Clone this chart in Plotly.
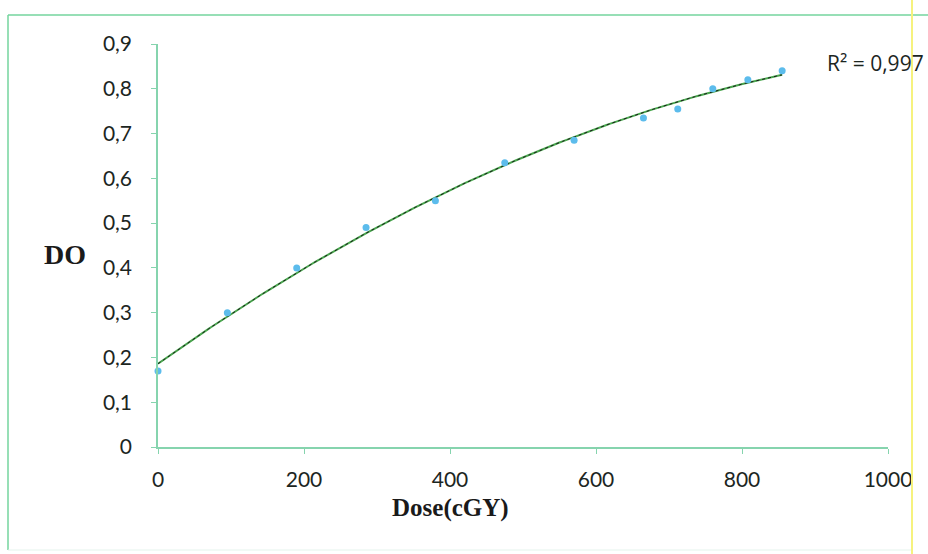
import numpy as np
import plotly.graph_objects as go

# Measured optical density versus dose
dose = [0, 95, 190, 285, 380, 475, 570, 665, 712, 760, 808, 855]
do_values = [0.17, 0.30, 0.40, 0.49, 0.55, 0.635, 0.685, 0.735, 0.755, 0.80, 0.82, 0.84]

y_tick_vals = [0, 0.1, 0.2, 0.3, 0.4, 0.5, 0.6, 0.7, 0.8, 0.9]
y_tick_text = ["0", "0,1", "0,2", "0,3", "0,4", "0,5", "0,6", "0,7", "0,8", "0,9"]
x_tick_vals = [0, 200, 400, 600, 800, 1000]
x_tick_text = ["0", "200", "400", "600", "800", "1000"]

r2_label = "R² = 0,997"

# Second-order polynomial trend line fitted to the measurements
coef = np.polyfit(dose, do_values, 2)
fit_x = np.linspace(min(dose), max(dose), 200)
fit_y = np.polyval(coef, fit_x)

W, H = 928, 554
ML, MR, MT, MB = 158, 40, 44, 107
PW, PH = W - ML - MR, H - MT - MB


def px(xp):
    return (xp - ML) / PW


def py(yp):
    return (H - MB - yp) / PH


axis_green = "#86d4ae"
text_col = "#1c261f"

fig = go.Figure()

fig.add_trace(go.Scatter(
    x=fit_x, y=fit_y, mode="lines",
    line=dict(color="#4aa84f", width=2),
    hoverinfo="skip", showlegend=False,
))
fig.add_trace(go.Scatter(
    x=fit_x, y=fit_y, mode="lines",
    line=dict(color="#1b1b1b", width=1, dash="dot"),
    hoverinfo="skip", showlegend=False,
))
fig.add_trace(go.Scatter(
    x=dose, y=do_values, mode="markers",
    marker=dict(color="#5cbcec", size=7, symbol="circle"),
    cliponaxis=False, showlegend=False,
))

fig.update_layout(
    width=W, height=H,
    margin=dict(l=ML, r=MR, t=MT, b=MB),
    paper_bgcolor="white", plot_bgcolor="white",
    font=dict(family="Lato, Open Sans, sans-serif", color=text_col),
    xaxis=dict(
        range=[0, 1000], tickvals=x_tick_vals, ticktext=x_tick_text,
        showgrid=False, zeroline=False,
        showline=True, linecolor=axis_green, linewidth=1.5,
        ticks="outside", ticklen=5, tickcolor=axis_green, tickwidth=1.2,
        tickfont=dict(size=21, color=text_col),
        ticklabelstandoff=8,
    ),
    yaxis=dict(
        range=[0, 0.9], tickvals=y_tick_vals, ticktext=y_tick_text,
        showgrid=False, zeroline=False,
        showline=True, linecolor=axis_green, linewidth=1.5,
        ticks="outside", ticklen=5, tickcolor=axis_green, tickwidth=1.2,
        tickfont=dict(size=21, color=text_col),
        ticklabelstandoff=15,
    ),
    annotations=[
        dict(text="<b>DO</b>", x=px(65), y=py(254), xref="paper", yref="paper",
             showarrow=False, xanchor="center", yanchor="middle",
             font=dict(family="Liberation Serif, Times New Roman, serif", size=28, color="#1a1a1a")),
        dict(text="<b>Dose(cGY)</b>", x=px(450), y=py(508), xref="paper", yref="paper",
             showarrow=False, xanchor="center", yanchor="middle",
             font=dict(family="Liberation Serif, Times New Roman, serif", size=25, color="#1a1a1a")),
        dict(text=r2_label, x=px(825), y=py(63), xref="paper", yref="paper",
             showarrow=False, xanchor="left", yanchor="middle",
             font=dict(family="Open Sans, Lato, sans-serif", size=21, color=text_col)),
    ],
    shapes=[
        # chart frame
        dict(type="line", xref="paper", yref="paper", x0=px(8), x1=px(8), y0=py(15), y1=py(550),
             line=dict(color="#74d49e", width=1.5)),
        dict(type="line", xref="paper", yref="paper", x0=px(8), x1=px(940), y0=py(15), y1=py(15),
             line=dict(color="#74d49e", width=1.5)),
        dict(type="line", xref="paper", yref="paper", x0=px(8), x1=px(912), y0=py(550), y1=py(550),
             line=dict(color="#e4f3ec", width=1)),
        dict(type="line", xref="paper", yref="paper", x0=px(912), x1=px(912), y0=py(0), y1=py(554),
             line=dict(color="#f6f27e", width=2)),
    ],
)

fig.write_html("out.html")
